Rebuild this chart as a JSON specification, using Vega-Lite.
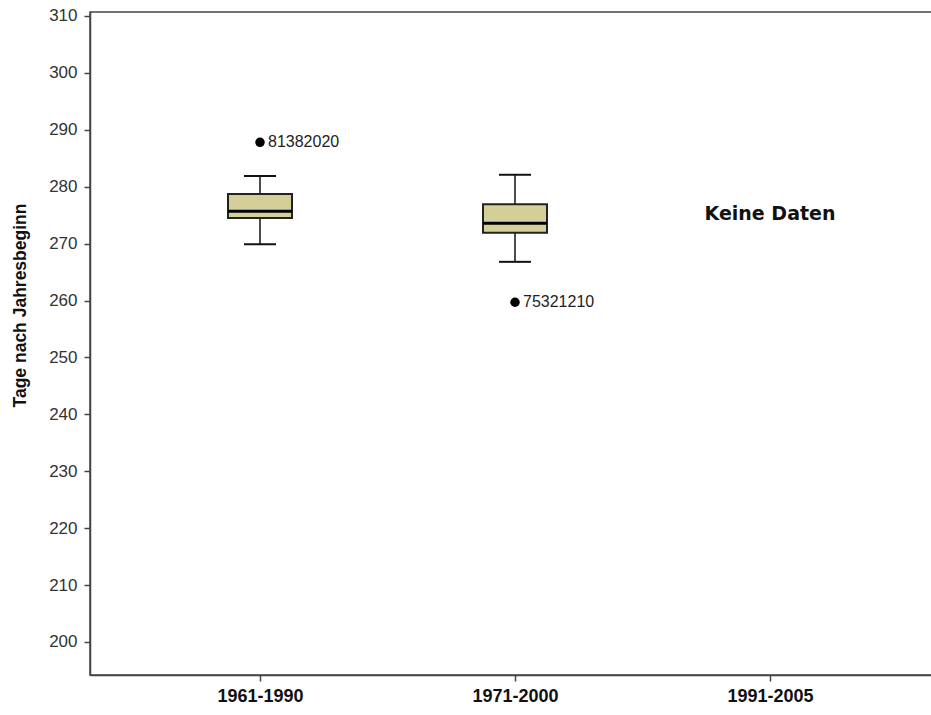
{
  "$schema": "https://vega.github.io/schema/vega-lite/v6.json",
  "autosize": "none",
  "width": 850,
  "height": 663,
  "padding": {"left": 90, "top": 12, "right": 0, "bottom": 40},
  "background": "white",
  "config": {
    "view": {"stroke": "#444", "strokeWidth": 1.5},
    "font": "Liberation Sans"
  },
  "datasets": {
    "boxes": [
      {"period": "1961-1990", "min": 269.9, "q1": 274.5, "median": 275.7, "q3": 278.7, "max": 281.9},
      {"period": "1971-2000", "min": 266.8, "q1": 271.9, "median": 273.6, "q3": 276.9, "max": 282.1}
    ],
    "outliers": [
      {"period": "1961-1990", "value": 287.8, "id": "81382020"},
      {"period": "1971-2000", "value": 259.7, "id": "75321210"}
    ],
    "notes": [
      {"period": "1991-2005", "value": 275.2, "label": "Keine Daten"}
    ]
  },
  "encoding": {
    "x": {
      "field": "period",
      "type": "nominal",
      "sort": ["1961-1990", "1971-2000", "1991-2005"],
      "scale": {"type": "point", "domain": ["1961-1990", "1971-2000", "1991-2005"], "padding": 0.6667},
      "axis": {
        "title": null,
        "labelAngle": 0,
        "labelFont": "Liberation Sans",
        "labelFontWeight": "bold",
        "labelFontSize": 18,
        "labelColor": "#111",
        "labelPadding": 6,
        "tickSize": 6,
        "tickColor": "#444",
        "tickWidth": 1.5,
        "domainColor": "#444",
        "domainWidth": 1.5,
        "grid": false
      }
    }
  },
  "layer": [
    {
      "data": {"name": "boxes"},
      "mark": {"type": "rule", "color": "#111", "strokeWidth": 1.5},
      "encoding": {
        "y": {
          "field": "min",
          "type": "quantitative",
          "scale": {"domain": [194.2, 310.7], "nice": false, "zero": false},
          "axis": {
            "title": "Tage nach Jahresbeginn",
            "titleFont": "Liberation Sans",
            "titleFontSize": 17.5,
            "titleFontWeight": "bold",
            "titleColor": "#111",
            "titleX": -61,
            "titleY": 293,
            "titleAngle": 270,
            "titleAlign": "center",
            "titleBaseline": "bottom",
            "values": [200, 210, 220, 230, 240, 250, 260, 270, 280, 290, 300, 310],
            "labelFont": "Liberation Sans",
            "labelFontSize": 17,
            "labelColor": "#333",
            "labelPadding": 7,
            "tickSize": 6,
            "tickColor": "#444",
            "tickWidth": 1.5,
            "domainColor": "#444",
            "domainWidth": 1.5,
            "grid": false
          }
        },
        "y2": {"field": "max"}
      }
    },
    {
      "data": {"name": "boxes"},
      "mark": {"type": "bar", "size": 64, "fill": "#D4CF98", "stroke": "#222", "strokeWidth": 2},
      "encoding": {
        "y": {"field": "q1", "type": "quantitative"},
        "y2": {"field": "q3"}
      }
    },
    {
      "data": {"name": "boxes"},
      "mark": {"type": "tick", "size": 64, "thickness": 3, "color": "#000", "opacity": 1},
      "encoding": {"y": {"field": "median", "type": "quantitative"}}
    },
    {
      "data": {"name": "boxes"},
      "mark": {"type": "tick", "size": 32, "thickness": 2, "color": "#111", "opacity": 1},
      "encoding": {"y": {"field": "min", "type": "quantitative"}}
    },
    {
      "data": {"name": "boxes"},
      "mark": {"type": "tick", "size": 32, "thickness": 2, "color": "#111", "opacity": 1},
      "encoding": {"y": {"field": "max", "type": "quantitative"}}
    },
    {
      "data": {"name": "outliers"},
      "mark": {"type": "point", "shape": "circle", "filled": true, "size": 90, "color": "#000", "opacity": 1},
      "encoding": {"y": {"field": "value", "type": "quantitative"}}
    },
    {
      "data": {"name": "outliers"},
      "mark": {"type": "text", "align": "left", "baseline": "middle", "dx": 8, "fontSize": 16, "font": "Liberation Sans", "color": "#222"},
      "encoding": {
        "y": {"field": "value", "type": "quantitative"},
        "text": {"field": "id"}
      }
    },
    {
      "data": {"name": "notes"},
      "mark": {"type": "text", "align": "center", "baseline": "middle", "fontSize": 19, "fontWeight": "bold", "font": "DejaVu Sans", "color": "#111"},
      "encoding": {
        "y": {"field": "value", "type": "quantitative"},
        "text": {"field": "label"}
      }
    }
  ]
}
